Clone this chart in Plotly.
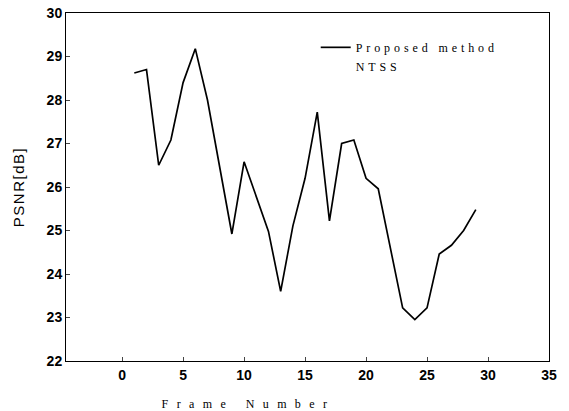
import plotly.graph_objects as go

frames = list(range(1, 30))
psnr_proposed = [28.62, 28.7, 26.5, 27.08, 28.4, 29.18, 28.0, 26.5, 24.92,
                 26.58, 25.8, 24.98, 23.6, 25.1, 26.2, 27.72, 25.22, 27.0,
                 27.08, 26.2, 25.96, 24.6, 23.22, 22.95, 23.22, 24.46, 24.66,
                 25.0, 25.48]
x_ticks = [0, 5, 10, 15, 20, 25, 30, 35]
y_ticks = [22, 23, 24, 25, 26, 27, 28, 29, 30]

fig = go.Figure()
fig.add_trace(go.Scatter(x=frames, y=psnr_proposed, mode="lines",
                         name="Proposed method",
                         line=dict(color="black", width=1.7)))
fig.add_trace(go.Scatter(x=[None], y=[None], mode="lines", name="NTSS",
                         line=dict(color="rgba(0,0,0,0)", width=1)))

fig.add_annotation(text="Frame Number", xref="paper", yref="paper",
                   x=0.378, y=-0.124, xanchor="center", yanchor="middle",
                   showarrow=False,
                   font=dict(family="Liberation Serif", size=12, color="black"))

fig.update_layout(
    width=569, height=411,
    margin=dict(l=66, r=20, t=13, b=50, autoexpand=False),
    paper_bgcolor="white", plot_bgcolor="white",
    showlegend=True,
    legend=dict(x=0.517, y=0.943, xanchor="left", yanchor="top",
                bgcolor="rgba(0,0,0,0)",
                font=dict(family="Liberation Serif", size=12, color="black"),
                tracegroupgap=0, itemwidth=30),
    xaxis=dict(range=[-4.6, 35], tickvals=x_ticks, ticks="inside", ticklen=4,
               showgrid=False, zeroline=False, showline=True, linecolor="black",
               linewidth=1, mirror=True, ticklabelstandoff=1, automargin=False,
               tickfont=dict(family="Liberation Sans", size=14, color="black", weight="bold")),
    yaxis=dict(range=[22, 30], tickvals=y_ticks, ticks="inside", ticklen=4,
               showgrid=False, zeroline=False, showline=True, linecolor="black",
               linewidth=1, mirror=True, automargin=False,
               tickfont=dict(family="Liberation Sans", size=14, color="black", weight="bold"),
               title=dict(text="PSNR[dB]", standoff=18,
                          font=dict(family="Liberation Sans", size=15, color="black"))),
)

post = """
function spaceText(){
  document.querySelectorAll('.annotation-text').forEach(function(e){e.style.letterSpacing='8.4px';});
  document.querySelectorAll('.legendtext').forEach(function(e){e.style.letterSpacing='3.9px';});
  document.querySelectorAll('.ytitle').forEach(function(e){e.style.letterSpacing='1.5px';});
  document.querySelectorAll('.legend .scrollbox, .legend').forEach(function(e){e.removeAttribute('clip-path');});
}
spaceText();
"""
fig.write_html("out.html", post_script=post)
